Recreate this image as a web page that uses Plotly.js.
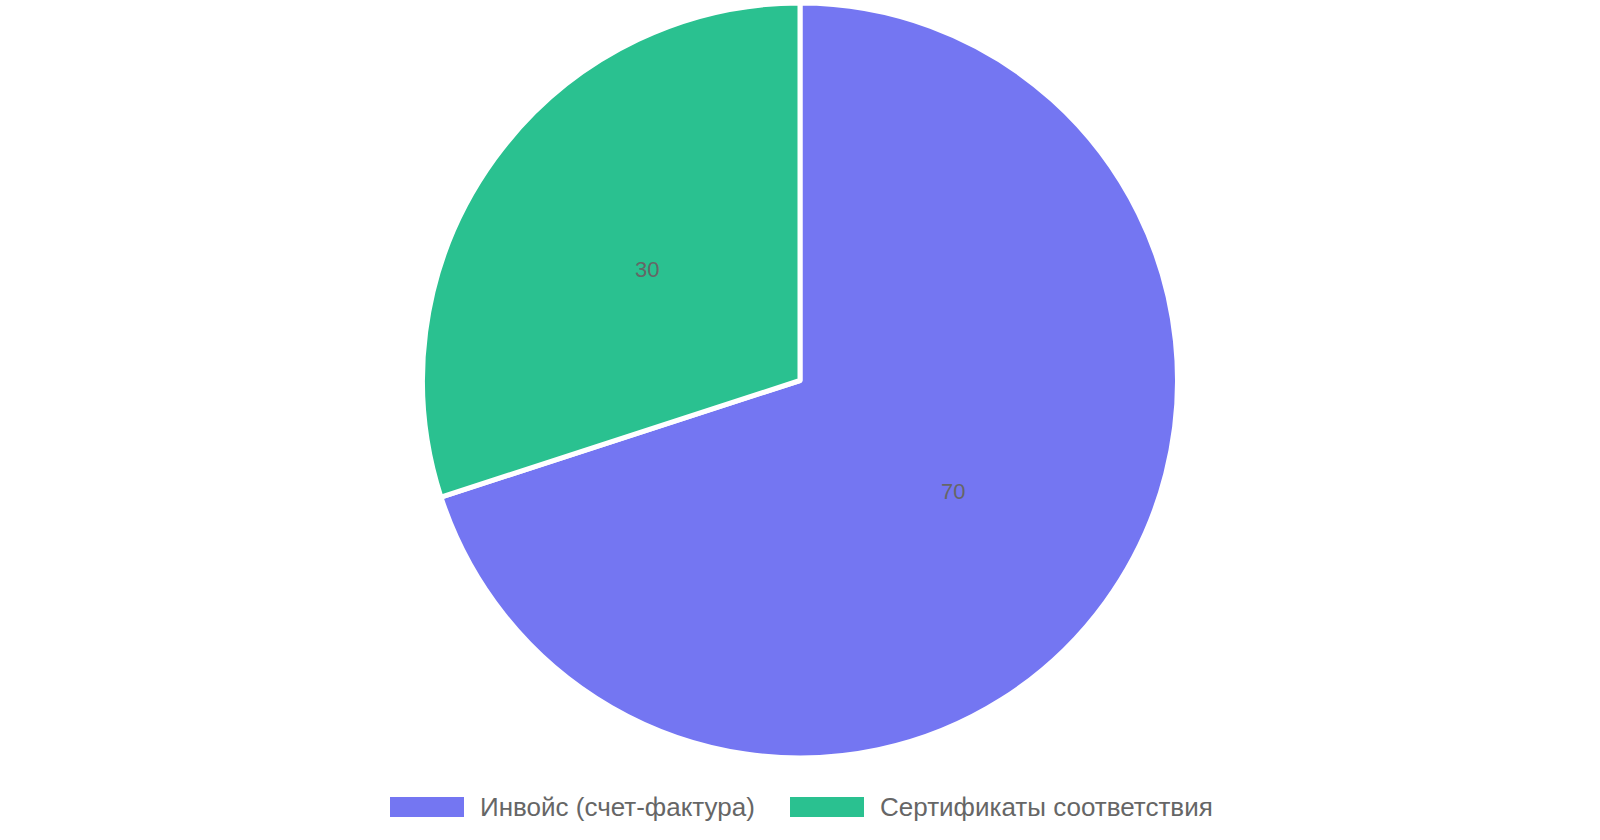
<!DOCTYPE html>
<html>
<head>
<meta charset="utf-8">
<script src="https://cdn.plot.ly/plotly-3.0.1.min.js"></script>
<style>
  html, body { margin: 0; padding: 0; background: #ffffff; }
  #chart { width: 1600px; height: 840px; }
</style>
</head>
<body>
<div id="chart"></div>
<script>
const categories = ["Инвойс (счет-фактура)", "Сертификаты соответствия"];
const values = [70, 30];
const colors = ["#7476F2", "#2AC190"];

const W = 1600, H = 840;
const FONT = "Liberation Sans, Arial, Helvetica, sans-serif";

// pie geometry (pixels)
const CX = 800, CY = 380.5, R = 377.5;

const trace = {
  type: "pie",
  labels: categories,
  values: values,
  sort: false,
  direction: "clockwise",
  rotation: 0,
  marker: { colors: colors, line: { color: "#ffffff", width: 5 } },
  textinfo: "none",
  hoverinfo: "label+value",
  domain: { x: [(CX - R) / W, (CX + R) / W], y: [(H - CY - R) / H, (H - CY + R) / H] },
  showlegend: false
};

const shapes = [], annotations = [];

// value labels at half radius on each slice's bisector (Chart.js style)
const total = values.reduce((a, b) => a + b, 0);
let cum = 0;
values.forEach((v) => {
  const mid = (cum + v / 2) / total * 2 * Math.PI; // clockwise from 12 o'clock
  cum += v;
  const px = CX + Math.sin(mid) * R / 2;
  const py = CY - Math.cos(mid) * R / 2;
  annotations.push({
    text: String(v), xref: "paper", yref: "paper",
    x: px / W, y: (H - py) / H, xanchor: "center", yanchor: "middle",
    showarrow: false, font: { family: FONT, size: 22, color: "#666666" }
  });
});

// custom legend (Chart.js-like wide swatches)
const legendX = [390, 790];
const swW = 74, swH = 20, swY = 797;
categories.forEach((c, i) => {
  shapes.push({
    type: "rect", xref: "paper", yref: "paper",
    x0: legendX[i] / W, x1: (legendX[i] + swW) / W,
    y0: (H - swY - swH) / H, y1: (H - swY) / H,
    fillcolor: colors[i], line: { width: 0 }
  });
  annotations.push({
    text: c, xref: "paper", yref: "paper",
    x: (legendX[i] + swW + 14) / W, y: (H - swY - swH / 2) / H,
    xanchor: "left", yanchor: "middle", showarrow: false,
    font: { family: FONT, size: 26, color: "#666666" }
  });
});

const layout = {
  width: W, height: H,
  margin: { l: 0, r: 0, t: 0, b: 0 },
  paper_bgcolor: "#ffffff",
  showlegend: false,
  shapes: shapes,
  annotations: annotations
};

Plotly.newPlot("chart", [trace], layout, { displayModeBar: false, staticPlot: true });
</script>
</body>
</html>
